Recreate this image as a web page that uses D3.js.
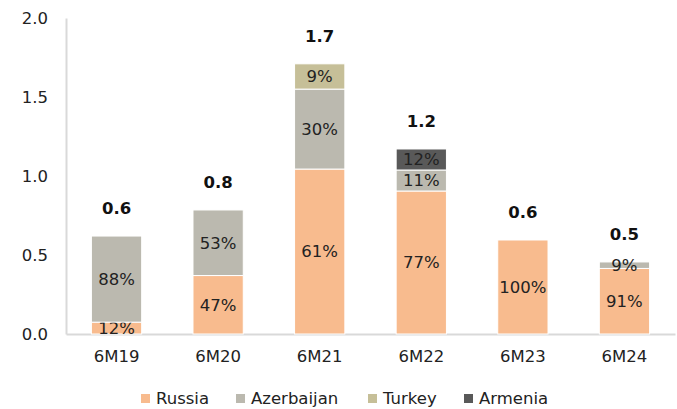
<!DOCTYPE html>
<html>
<head>
<meta charset="utf-8">
<script src="https://cdn.jsdelivr.net/npm/d3@7"></script>
<style>
  html, body { margin: 0; padding: 0; background: #fff; }
  svg { display: block; }
</style>
</head>
<body>
<svg id="chart" width="677" height="409"></svg>
<script>
// data ---------------------------------------------------------------
const periods    = ["6M19", "6M20", "6M21", "6M22", "6M23", "6M24"];
const russia     = [0.075, 0.37, 1.044, 0.905, 0.595, 0.415];
const azerbaijan = [0.545, 0.415, 0.506, 0.133, 0, 0.041];
const turkey     = [0, 0, 0.16, 0, 0, 0];
const armenia    = [0, 0, 0, 0.133, 0, 0];
const totals     = ["0.6", "0.8", "1.7", "1.2", "0.6", "0.5"];
const pctRussia     = ["12%", "47%", "61%", "77%", "100%", "91%"];
const pctAzerbaijan = ["88%", "53%", "30%", "11%", "", "9%"];
const pctTurkey     = ["", "", "9%", "", "", ""];
const pctArmenia    = ["", "", "", "12%", "", ""];
const yTicks = [0, 0.5, 1.0, 1.5, 2.0];

const seriesNames = ["Russia", "Azerbaijan", "Turkey", "Armenia"];
const COLORS = ["#F8BB8E", "#BBB9AF", "#C6BF98", "#595959"];
const FONT = "'DejaVu Sans', sans-serif";
const FS = 16.5;

const W = 677, H = 409;
const m = { left: 66, right: 2, top: 18, bottom: 75 };

const rows = periods.map((p, i) => ({
  period: p,
  Russia: russia[i], Azerbaijan: azerbaijan[i], Turkey: turkey[i], Armenia: armenia[i],
  pct: { Russia: pctRussia[i], Azerbaijan: pctAzerbaijan[i], Turkey: pctTurkey[i], Armenia: pctArmenia[i] },
  total: totals[i]
}));

const svg = d3.select("#chart");

const x = d3.scaleBand().domain(periods).range([m.left, W - m.right]).paddingInner(0.505).paddingOuter(0.25);
const y = d3.scaleLinear().domain([0, 2]).range([H - m.bottom, m.top]);

// axes
const yAxis = svg.append("g").attr("transform", `translate(${m.left},0)`)
  .call(d3.axisLeft(y).tickValues(yTicks).tickFormat(d3.format(".1f")).tickSize(0).tickPadding(18));
yAxis.select(".domain").attr("stroke", "#d9d9d9").attr("stroke-width", 2);
yAxis.selectAll("text").attr("font-family", FONT).attr("font-size", FS).attr("fill", "#222");

const xAxis = svg.append("g").attr("transform", `translate(0,${y(0)})`)
  .call(d3.axisBottom(x).tickSize(0).tickPadding(16));
xAxis.select(".domain").attr("stroke", "#d9d9d9").attr("stroke-width", 2);
xAxis.selectAll("text").attr("font-family", FONT).attr("font-size", FS).attr("fill", "#222");

// stacked bars
const stack = d3.stack().keys(seriesNames)(rows);

const layers = svg.append("g").selectAll("g")
  .data(stack).join("g")
  .attr("fill", (d, i) => COLORS[i]);

layers.selectAll("rect")
  .data(d => d.map(v => ({ v, key: d.key })))
  .join("rect")
  .filter(d => d.v[1] - d.v[0] > 0)
  .attr("x", d => x(d.v.data.period))
  .attr("width", x.bandwidth())
  .attr("y", d => y(d.v[1]))
  .attr("height", d => y(d.v[0]) - y(d.v[1]))
  .attr("stroke", "#fff")
  .attr("stroke-width", 1);

// segment labels
layers.selectAll("text")
  .data(d => d.map(v => ({ v, key: d.key })).filter(d => d.v.data.pct[d.key]))
  .join("text")
  .attr("x", d => x(d.v.data.period) + x.bandwidth() / 2)
  .attr("y", d => (y(d.v[0]) + y(d.v[1])) / 2)
  .attr("dy", "0.36em")
  .attr("text-anchor", "middle")
  .attr("font-family", FONT)
  .attr("font-size", FS)
  .attr("fill", "#222")
  .text(d => d.v.data.pct[d.key]);

// totals
svg.append("g").selectAll("text")
  .data(rows).join("text")
  .attr("x", d => x(d.period) + x.bandwidth() / 2)
  .attr("y", d => y(d.Russia + d.Azerbaijan + d.Turkey + d.Armenia) - 22)
  .attr("text-anchor", "middle")
  .attr("font-family", FONT)
  .attr("font-size", FS)
  .attr("font-weight", "bold")
  .attr("fill", "#111")
  .text(d => d.total);

// legend
const legendX = [141, 236, 368, 464];
const legend = svg.append("g").selectAll("g")
  .data(seriesNames).join("g")
  .attr("transform", (d, i) => `translate(${legendX[i]},394)`);
legend.append("rect").attr("width", 9).attr("height", 9).attr("fill", (d, i) => COLORS[i]);
legend.append("text")
  .attr("x", 15).attr("y", 10)
  .attr("font-family", FONT).attr("font-size", FS).attr("fill", "#222")
  .text(d => d);
</script>
</body>
</html>
